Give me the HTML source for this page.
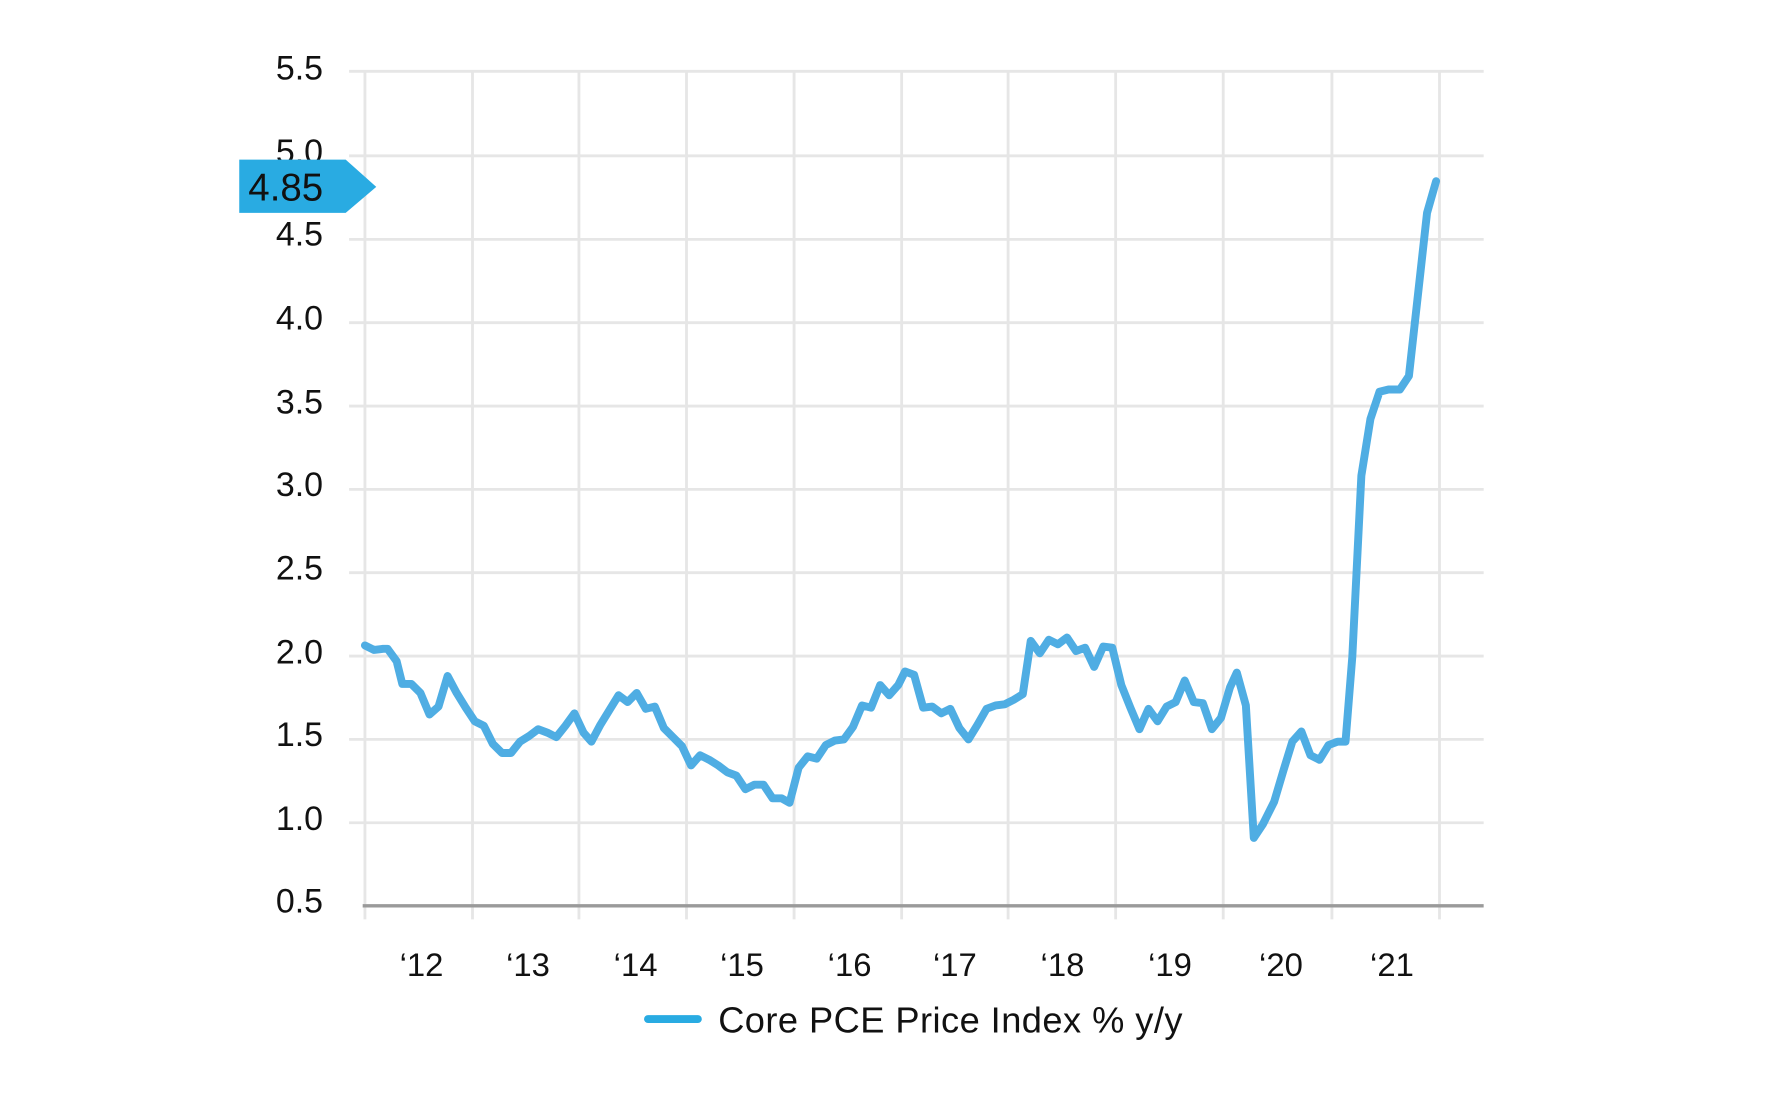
<!DOCTYPE html>
<html><head><style>html,body{margin:0;padding:0;background:#fff;width:1775px;height:1104px;overflow:hidden}</style></head>
<body>
<svg width="1775" height="1104" viewBox="0 0 1567 975" xmlns="http://www.w3.org/2000/svg" font-family="Liberation Sans, sans-serif">
<g stroke="#e6e6e6" stroke-width="2.5">
<line x1="308" y1="63" x2="1310" y2="63"/><line x1="308" y1="137.6" x2="1310" y2="137.6"/><line x1="308" y1="211.4" x2="1310" y2="211.4"/><line x1="308" y1="285" x2="1310" y2="285"/><line x1="308" y1="358.6" x2="1310" y2="358.6"/><line x1="308" y1="432.2" x2="1310" y2="432.2"/><line x1="308" y1="505.8" x2="1310" y2="505.8"/><line x1="308" y1="579.4" x2="1310" y2="579.4"/><line x1="308" y1="653" x2="1310" y2="653"/><line x1="308" y1="726.6" x2="1310" y2="726.6"/>
<line x1="322" y1="63" x2="322" y2="812"/><line x1="417" y1="63" x2="417" y2="812"/><line x1="511" y1="63" x2="511" y2="812"/><line x1="606" y1="63" x2="606" y2="812"/><line x1="701" y1="63" x2="701" y2="812"/><line x1="796" y1="63" x2="796" y2="812"/><line x1="890" y1="63" x2="890" y2="812"/><line x1="985" y1="63" x2="985" y2="812"/><line x1="1080" y1="63" x2="1080" y2="812"/><line x1="1176" y1="63" x2="1176" y2="812"/><line x1="1271" y1="63" x2="1271" y2="812"/>
</g>
<line x1="320" y1="800" x2="1310" y2="800" stroke="#9a9a9a" stroke-width="3"/>
<g font-size="30" fill="#111" text-anchor="end">
<text x="285" y="70">5.5</text><text x="285" y="144">5.0</text><text x="285" y="217">4.5</text><text x="285" y="291">4.0</text><text x="285" y="365">3.5</text><text x="285" y="438">3.0</text><text x="285" y="512">2.5</text><text x="285" y="586">2.0</text><text x="285" y="659">1.5</text><text x="285" y="733">1.0</text><text x="285" y="806">0.5</text>
</g>
<polygon points="211,141 305,141 332,165 305,188 211,188" fill="#29abe2"/>
<text x="219" y="177" font-size="34" fill="#111">4.85</text>
<g font-size="29" fill="#111" text-anchor="middle">
<text x="372" y="862">‘12</text><text x="466" y="862">‘13</text><text x="561" y="862">‘14</text><text x="655" y="862">‘15</text><text x="750" y="862">‘16</text><text x="843" y="862">‘17</text><text x="938" y="862">‘18</text><text x="1033" y="862">‘19</text><text x="1131" y="862">‘20</text><text x="1229" y="862">‘21</text>
</g>
<polyline fill="none" stroke="#4fade3" stroke-width="7" stroke-linejoin="round" stroke-linecap="round" points="322,570 330,574 338,573 342,573 350,584 355,604 363,604 371,612 379,631 387,624 395,597 403,612 411,625 419,637 427,641 435,657 443,665 451,665 459,655 467,650 475,644 483,647 491,651 499,641 507,630 515,647 522,655 530,640 538,627 546,614 554,620 562,612 570,626 578,624 586,643 594,651 602,659 610,676 618,667 626,671 634,676 642,682 650,685 658,697 666,693 674,693 682,705 690,705 697,709 705,678 713,668 721,670 729,658 737,654 745,653 753,642 761,623 769,625 777,605 785,614 793,605 799,593 807,596 815,625 823,624 831,630 839,626 847,643 855,653 863,640 871,626 879,623 887,622 895,618 903,613 910,566 918,577 926,565 934,569 942,563 950,575 958,572 966,589 974,571 982,572 990,605 998,625 1006,644 1014,626 1022,637 1030,624 1038,620 1046,601 1054,620 1062,621 1070,644 1078,634 1086,607 1092,594 1100,623 1107,740 1115,728 1125,708 1133,681 1141,655 1149,646 1157,667 1165,671 1173,658 1181,655 1188,655 1194,580 1202,420 1210,370 1218,346 1226,344 1236,344 1244,332 1252,260 1260,188 1268,160"/>
<line x1="572" y1="900" x2="616" y2="900" stroke="#29abe2" stroke-width="7" stroke-linecap="round"/>
<text x="634" y="912" font-size="32" textLength="410" fill="#111">Core PCE Price Index % y/y</text>
</svg>
</body></html>
